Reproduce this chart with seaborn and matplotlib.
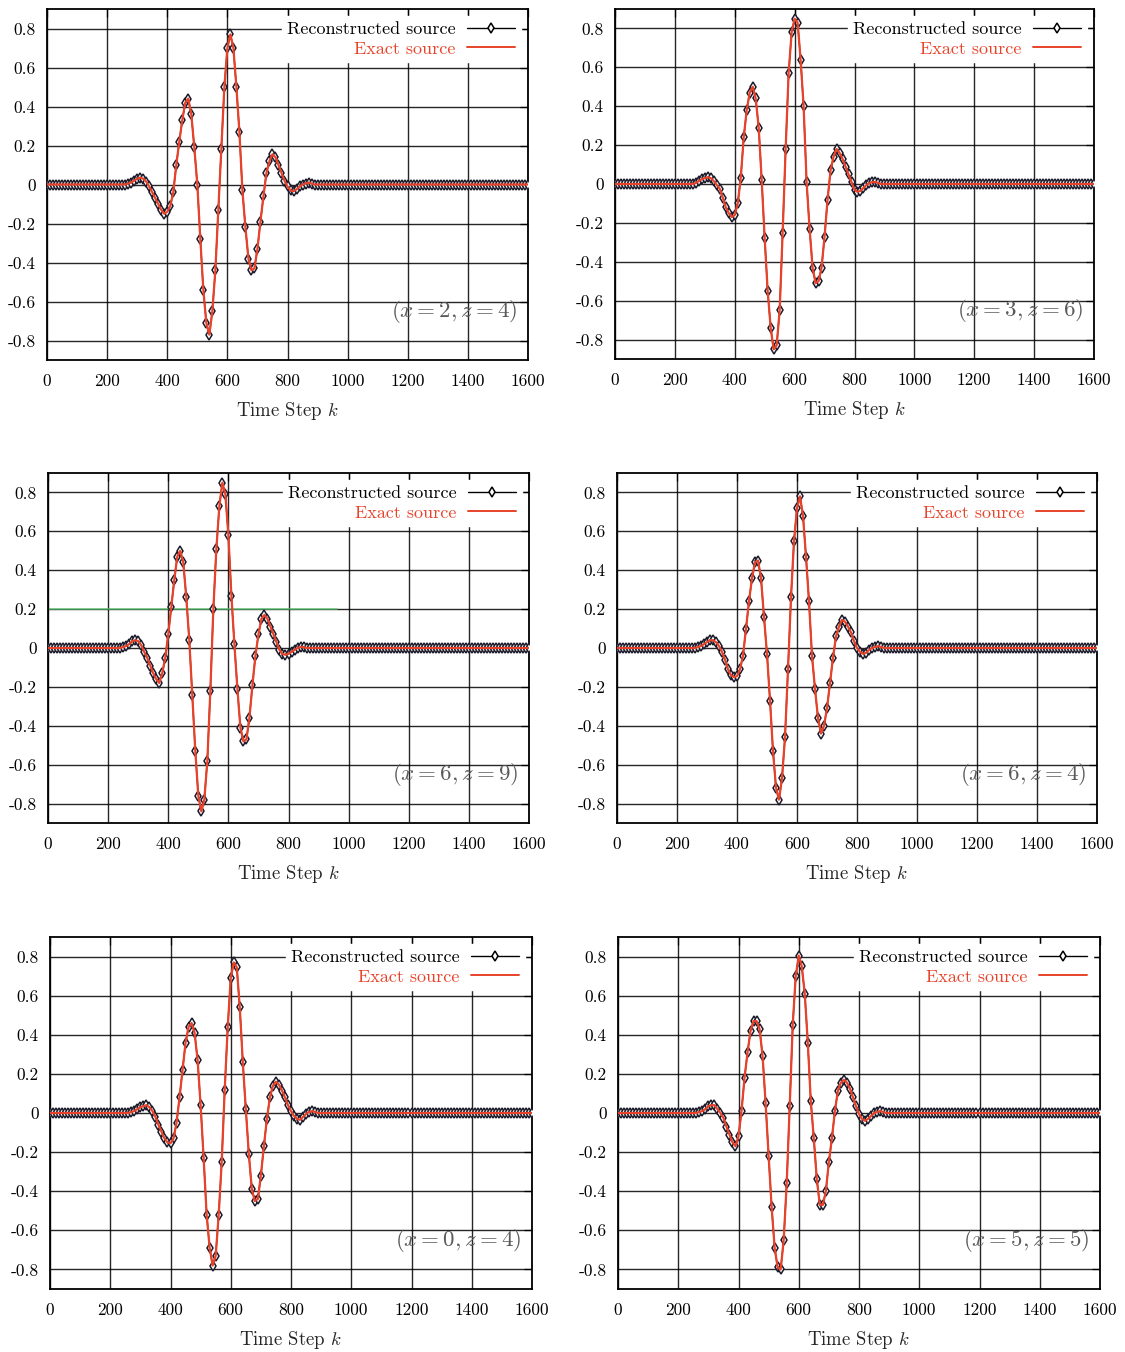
import numpy as np
import pandas as pd
import matplotlib
matplotlib.use("Agg")
import matplotlib.pyplot as plt
from matplotlib.lines import Line2D
import seaborn as sns

# ---- data -------------------------------------------------------------
# time steps sampled every 10 steps over 0..1600
time_steps = np.arange(0, 1601, 10)
window_start = 250      # first step of the non-zero part of each trace

# source amplitude on steps 250..890 (zero outside that window)
src_x2_z4 = [0.0, 0.0, 0.005, 0.01, 0.02, 0.03, 0.035, 0.03, 0.015, -0.01,
             -0.04, -0.07, -0.10, -0.13, -0.15, -0.14, -0.11, -0.04, 0.10, 0.22,
             0.33, 0.42, 0.44, 0.36, 0.19, 0.0, -0.28, -0.54, -0.71, -0.77,
             -0.65, -0.44, -0.13, 0.18, 0.50, 0.70, 0.77, 0.70, 0.50, 0.27,
             -0.03, -0.22, -0.38, -0.44, -0.43, -0.33, -0.19, -0.06, 0.06, 0.12,
             0.155, 0.14, 0.10, 0.06, 0.02, -0.01, -0.03, -0.035, -0.025, -0.01,
             0.0, 0.005, 0.01, 0.005, 0.0]
src_x3_z6 = [0.0, 0.0, 0.005, 0.015, 0.025, 0.03, 0.035, 0.03, 0.015, -0.005,
             -0.025, -0.07, -0.12, -0.15, -0.17, -0.16, -0.10, 0.03, 0.24, 0.38,
             0.47, 0.50, 0.44, 0.29, 0.02, -0.28, -0.55, -0.74, -0.85, -0.83,
             -0.65, -0.25, 0.18, 0.57, 0.78, 0.85, 0.83, 0.64, 0.40, 0.01,
             -0.23, -0.43, -0.51, -0.50, -0.43, -0.27, -0.08, 0.07, 0.14, 0.18,
             0.16, 0.13, 0.09, 0.05, 0.01, -0.03, -0.04, -0.035, -0.02, -0.005,
             0.005, 0.01, 0.01, 0.005, 0.0]
src_x6_z9 = [0.005, 0.01, 0.02, 0.035, 0.04, 0.035, 0.015, -0.02, -0.05, -0.09,
             -0.13, -0.16, -0.18, -0.13, -0.05, 0.07, 0.21, 0.35, 0.47, 0.50,
             0.44, 0.26, 0.04, -0.24, -0.53, -0.76, -0.84, -0.78, -0.58, -0.22,
             0.20, 0.51, 0.73, 0.85, 0.79, 0.58, 0.27, 0.02, -0.21, -0.41,
             -0.48, -0.47, -0.36, -0.19, -0.04, 0.07, 0.15, 0.17, 0.15, 0.11,
             0.07, 0.03, -0.01, -0.03, -0.035, -0.03, -0.02, -0.01, 0.0, 0.005,
             0.005, 0.0, 0.0, 0.0, 0.0]
src_x6_z4 = [0.0, 0.0, 0.005, 0.01, 0.02, 0.03, 0.04, 0.04, 0.03, 0.01,
             -0.02, -0.06, -0.11, -0.14, -0.15, -0.145, -0.11, -0.04, 0.10, 0.24,
             0.36, 0.44, 0.45, 0.36, 0.16, -0.03, -0.27, -0.53, -0.72, -0.78,
             -0.67, -0.46, -0.11, 0.26, 0.55, 0.72, 0.78, 0.68, 0.47, 0.24,
             -0.04, -0.21, -0.36, -0.44, -0.40, -0.31, -0.18, -0.05, 0.06, 0.11,
             0.145, 0.135, 0.11, 0.08, 0.035, 0.0, -0.02, -0.03, -0.025, -0.01,
             0.0, 0.005, 0.01, 0.005, 0.0]
src_x0_z4 = [0.0, 0.0, 0.005, 0.01, 0.02, 0.03, 0.035, 0.04, 0.03, 0.01,
             -0.02, -0.06, -0.095, -0.13, -0.15, -0.155, -0.13, -0.05, 0.08, 0.22,
             0.36, 0.44, 0.46, 0.41, 0.27, 0.04, -0.23, -0.52, -0.69, -0.78,
             -0.73, -0.52, -0.25, 0.12, 0.44, 0.69, 0.77, 0.745, 0.54, 0.26,
             0.02, -0.21, -0.39, -0.45, -0.44, -0.32, -0.17, -0.03, 0.08, 0.14,
             0.16, 0.145, 0.115, 0.08, 0.04, 0.01, -0.015, -0.03, -0.035, -0.02,
             -0.005, 0.005, 0.01, 0.005, 0.0]
src_x5_z5 = [0.0, 0.0, 0.005, 0.01, 0.02, 0.035, 0.04, 0.04, 0.02, 0.0,
             -0.025, -0.07, -0.11, -0.15, -0.17, -0.12, 0.01, 0.18, 0.31, 0.42,
             0.47, 0.47, 0.43, 0.29, 0.05, -0.22, -0.48, -0.69, -0.79, -0.80,
             -0.65, -0.36, 0.035, 0.45, 0.70, 0.805, 0.75, 0.61, 0.36, 0.06,
             -0.13, -0.34, -0.47, -0.47, -0.40, -0.25, -0.13, 0.01, 0.115, 0.155,
             0.17, 0.155, 0.125, 0.08, 0.035, -0.005, -0.03, -0.04, -0.03, -0.015,
             0.0, 0.005, 0.01, 0.005, 0.0]

panel_sources = [src_x2_z4, src_x3_z6, src_x6_z9, src_x6_z4, src_x0_z4, src_x5_z5]
panel_labels = [r"$(x=2, z=4)$", r"$(x=3, z=6)$", r"$(x=6, z=9)$",
                r"$(x=6, z=4)$", r"$(x=0, z=4)$", r"$(x=5, z=5)$"]

x_ticks = [0, 200, 400, 600, 800, 1000, 1200, 1400, 1600]
x_tick_labels = ["0", "200", "400", "600", "800", "1000", "1200", "1400", "1600"]
y_ticks = [-0.8, -0.6, -0.4, -0.2, 0.0, 0.2, 0.4, 0.6, 0.8]
y_tick_labels = ["-0.8", "-0.6", "-0.4", "-0.2", "0", "0.2", "0.4", "0.6", "0.8"]

# ---- style --------------------------------------------------------------
sns.set_theme(style="white")
plt.rcParams["font.family"] = ["cmr10", "DejaVu Serif"]
plt.rcParams["mathtext.fontset"] = "cm"
plt.rcParams["axes.unicode_minus"] = False
plt.rcParams["axes.formatter.use_mathtext"] = True

RED = "#e8432a"
LABEL_GRAY = "#5a5a5a"

fig = plt.figure(figsize=(11.25, 13.52), dpi=100)

# axes boxes in pixels: (left, top, right, bottom)
boxes = [(47, 9, 528, 360), (615, 9, 1094, 359),
         (48, 473, 529, 823), (617, 473, 1097, 823),
         (50, 937, 532, 1289), (618, 937, 1100, 1289)]
W, H = 1125, 1352


def full_trace(window_values):
    pre = np.zeros(window_start // 10)
    post = np.zeros(len(time_steps) - len(pre) - len(window_values))
    return np.concatenate([pre, np.asarray(window_values), post])


for i, (vals, lab, box) in enumerate(zip(panel_sources, panel_labels, boxes)):
    l, t, r, b = box
    ax = fig.add_axes([l / W, 1 - b / H, (r - l) / W, (b - t) / H])
    df = pd.DataFrame({"k": time_steps, "source": full_trace(vals)})

    ax.set_axisbelow(True)
    ax.grid(True, color="black", linewidth=1.0, alpha=0.85)

    if i == 2:
        ax.axhline(0.2, xmin=0, xmax=0.6, color="#55c46a", linewidth=1.1,
                   alpha=0.85, zorder=1.5)

    # reconstructed source: black line with open diamonds
    sns.lineplot(data=df, x="k", y="source", ax=ax, color="black",
                 linewidth=1.0, marker="d", markersize=5.5,
                 markerfacecolor="white", markeredgecolor="#1a1a2a",
                 markeredgewidth=1.1, zorder=3)
    # exact source: red line
    sns.lineplot(data=df, x="k", y="source", ax=ax, color=RED,
                 linewidth=1.6, zorder=4)

    ax.set_xlim(0, 1600)
    ax.set_ylim(-0.9, 0.9)
    ax.set_xticks(x_ticks)
    ax.set_xticklabels(x_tick_labels)
    ax.set_yticks(y_ticks)
    ax.set_yticklabels(y_tick_labels)
    ax.tick_params(axis="both", direction="in", length=6, width=0.9,
                   top=True, right=True, labelsize=12.5, colors="black")
    ax.tick_params(axis="x", pad=10)
    ax.tick_params(axis="y", pad=8)
    for sp in ax.spines.values():
        sp.set_color("black")
        sp.set_linewidth(1.3)

    ax.set_xlabel(r"Time Step $k$", fontsize=13.5, labelpad=8)
    ax.set_ylabel("")

    ax.text(1565, -0.65, lab, ha="right", va="center", fontsize=16.5,
            color=LABEL_GRAY, zorder=5)

    handles = [Line2D([0], [0], color="black", linewidth=1.0, marker="d",
                      markersize=5.5, markerfacecolor="white",
                      markeredgecolor="black", markeredgewidth=1.1),
               Line2D([0], [0], color=RED, linewidth=1.4)]
    leg = ax.legend(handles, ["Reconstructed source", "Exact source"],
                    loc="upper right", markerfirst=False, frameon=True,
                    fancybox=False, framealpha=1.0, facecolor="white",
                    edgecolor="white", fontsize=13, handlelength=2.7,
                    handletextpad=0.6, labelspacing=0.2, borderpad=0.3,
                    borderaxespad=0.4, numpoints=1)
    leg.set_zorder(10)
    for txt, col in zip(leg.get_texts(), ["black", RED]):
        txt.set_color(col)

fig.savefig("out.png", dpi=100)
